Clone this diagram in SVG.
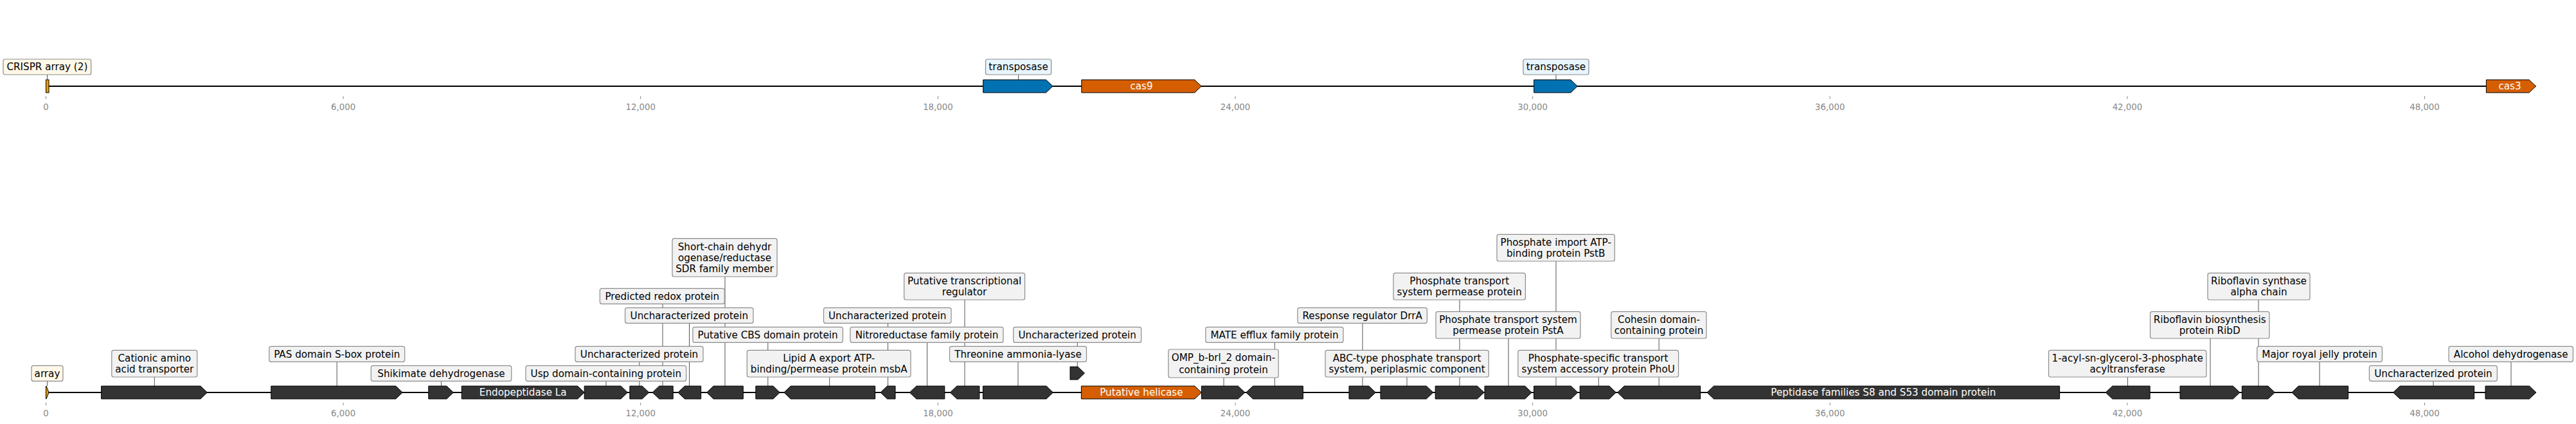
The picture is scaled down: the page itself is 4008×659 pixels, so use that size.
<svg xmlns="http://www.w3.org/2000/svg" width="4008" height="659" viewBox="0 0 4008 659">
<style>
.bg{fill:#ffffff}
.axis{stroke:#000;stroke-width:2;fill:none}
.gene{fill:#333333;stroke:#000;stroke-width:1}
.cas{fill:#D55E00;stroke:#000;stroke-width:1}
.tnp{fill:#0072B2;stroke:#000;stroke-width:1}
.crispr{fill:#E69F00;stroke:#000;stroke-width:1}
.lbl{fill:#F2F2F2;stroke:#8c8c8c;stroke-width:1.2}
.lblc{fill:#FFF8E8;stroke:#8c8c8c;stroke-width:1.2}
.lblt{fill:#E8F5FC;stroke:#8c8c8c;stroke-width:1.2}
.lead{stroke:#555;stroke-width:1;fill:none}
.tick{stroke:#888;stroke-width:1}
.t{font-family:"DejaVu Sans",sans-serif;font-size:15.2px;fill:#000;text-anchor:middle}
.w{font-family:"DejaVu Sans",sans-serif;font-size:15.2px;fill:#fff;text-anchor:middle}
.tl{font-family:"DejaVu Sans",sans-serif;font-size:13.3px;fill:#888;text-anchor:middle}
</style>
<rect class="bg" x="0" y="0" width="4008" height="659"/>

<g id="axes">
<line class="axis" x1="71.5" y1="134" x2="3945.6" y2="134"/>
<line class="axis" x1="71.5" y1="610" x2="3945.9" y2="610"/>
<g id="ticks-top">
<line class="tick" x1="71.5" y1="149.3" x2="71.5" y2="154"/><text class="tl" x="71.5" y="171.4">0</text>
<line class="tick" x1="534.1" y1="149.3" x2="534.1" y2="154"/><text class="tl" x="534.1" y="171.4">6,000</text>
<line class="tick" x1="996.7" y1="149.3" x2="996.7" y2="154"/><text class="tl" x="996.7" y="171.4">12,000</text>
<line class="tick" x1="1459.4" y1="149.3" x2="1459.4" y2="154"/><text class="tl" x="1459.4" y="171.4">18,000</text>
<line class="tick" x1="1922" y1="149.3" x2="1922" y2="154"/><text class="tl" x="1922" y="171.4">24,000</text>
<line class="tick" x1="2384.6" y1="149.3" x2="2384.6" y2="154"/><text class="tl" x="2384.6" y="171.4">30,000</text>
<line class="tick" x1="2847.2" y1="149.3" x2="2847.2" y2="154"/><text class="tl" x="2847.2" y="171.4">36,000</text>
<line class="tick" x1="3309.9" y1="149.3" x2="3309.9" y2="154"/><text class="tl" x="3309.9" y="171.4">42,000</text>
<line class="tick" x1="3772.5" y1="149.3" x2="3772.5" y2="154"/><text class="tl" x="3772.5" y="171.4">48,000</text>
</g>
<g id="ticks-bottom">
<line class="tick" x1="71.5" y1="625.7" x2="71.5" y2="630"/><text class="tl" x="71.5" y="647">0</text>
<line class="tick" x1="534.1" y1="625.7" x2="534.1" y2="630"/><text class="tl" x="534.1" y="647">6,000</text>
<line class="tick" x1="996.7" y1="625.7" x2="996.7" y2="630"/><text class="tl" x="996.7" y="647">12,000</text>
<line class="tick" x1="1459.4" y1="625.7" x2="1459.4" y2="630"/><text class="tl" x="1459.4" y="647">18,000</text>
<line class="tick" x1="1922" y1="625.7" x2="1922" y2="630"/><text class="tl" x="1922" y="647">24,000</text>
<line class="tick" x1="2384.6" y1="625.7" x2="2384.6" y2="630"/><text class="tl" x="2384.6" y="647">30,000</text>
<line class="tick" x1="2847.2" y1="625.7" x2="2847.2" y2="630"/><text class="tl" x="2847.2" y="647">36,000</text>
<line class="tick" x1="3309.9" y1="625.7" x2="3309.9" y2="630"/><text class="tl" x="3309.9" y="647">42,000</text>
<line class="tick" x1="3772.5" y1="625.7" x2="3772.5" y2="630"/><text class="tl" x="3772.5" y="647">48,000</text>
</g>
</g>

<g id="connectors">
<line class="lead" x1="73.5" y1="116" x2="73.5" y2="124"/>
<line class="lead" x1="1584.6" y1="116" x2="1584.6" y2="124"/>
<line class="lead" x1="2421" y1="116" x2="2421" y2="124"/>
<line class="lead" x1="73.5" y1="592.3" x2="73.5" y2="600"/>
<line class="lead" x1="240.3" y1="586" x2="240.3" y2="600"/>
<line class="lead" x1="524.2" y1="562.3" x2="524.2" y2="600"/>
<line class="lead" x1="686.5" y1="592.3" x2="686.5" y2="600"/>
<line class="lead" x1="943" y1="592.3" x2="943" y2="600"/>
<line class="lead" x1="994.8" y1="562.3" x2="994.8" y2="600"/>
<line class="lead" x1="1031" y1="472.3" x2="1031" y2="600"/>
<line class="lead" x1="1072.5" y1="502.3" x2="1072.5" y2="600"/>
<line class="lead" x1="1128" y1="430" x2="1128" y2="600"/>
<line class="lead" x1="1194.8" y1="532.3" x2="1194.8" y2="600"/>
<line class="lead" x1="1290.7" y1="586" x2="1290.7" y2="600"/>
<line class="lead" x1="1381.5" y1="502.3" x2="1381.5" y2="600"/>
<line class="lead" x1="1442.5" y1="532.3" x2="1442.5" y2="600"/>
<line class="lead" x1="1501" y1="466" x2="1501" y2="600"/>
<line class="lead" x1="1584" y1="562.3" x2="1584" y2="600"/>
<line class="lead" x1="1676.3" y1="532.3" x2="1676.3" y2="570"/>
<line class="lead" x1="1904" y1="587" x2="1904" y2="600"/>
<line class="lead" x1="1983.3" y1="532.3" x2="1983.3" y2="600"/>
<line class="lead" x1="2120" y1="502.3" x2="2120" y2="600"/>
<line class="lead" x1="2189" y1="586" x2="2189" y2="600"/>
<line class="lead" x1="2271" y1="466" x2="2271" y2="600"/>
<line class="lead" x1="2347" y1="526" x2="2347" y2="600"/>
<line class="lead" x1="2421" y1="406" x2="2421" y2="600"/>
<line class="lead" x1="2487.3" y1="586" x2="2487.3" y2="600"/>
<line class="lead" x1="2581.2" y1="526" x2="2581.2" y2="600"/>
<line class="lead" x1="3310.5" y1="586" x2="3310.5" y2="600"/>
<line class="lead" x1="3439" y1="526" x2="3439" y2="600"/>
<line class="lead" x1="3514" y1="466" x2="3514" y2="600"/>
<line class="lead" x1="3609" y1="562.3" x2="3609" y2="600"/>
<line class="lead" x1="3786" y1="592.3" x2="3786" y2="600"/>
<line class="lead" x1="3907" y1="562.3" x2="3907" y2="600"/>
</g>

<g id="top-track">
<g id="t-crispr"><rect class="crispr" x="71.5" y="124" width="4.5" height="20"/><rect class="lblc" x="5" y="92" width="136.7" height="24" rx="3"/><text class="t" x="73.4" y="109.4">CRISPR array (2)</text></g>
<g id="t-tnp1"><polygon class="tnp" points="1529.7,124 1627.5,124 1638,134 1627.5,144 1529.7,144"/><rect class="lblt" x="1533.5" y="92" width="102.1" height="24" rx="3"/><text class="t" x="1584.6" y="109.4">transposase</text></g>
<g id="t-cas9"><polygon class="cas" points="1682.8,124 1858.7,124 1869.2,134 1858.7,144 1682.8,144"/><text class="w" x="1776" y="139.4">cas9</text></g>
<g id="t-tnp2"><polygon class="tnp" points="2386.7,124 2443.9,124 2454.4,134 2443.9,144 2386.7,144"/><rect class="lblt" x="2370" y="92" width="102" height="24" rx="3"/><text class="t" x="2421" y="109.4">transposase</text></g>
<g id="t-cas3"><polygon class="cas" points="3868.4,124 3935.1,124 3945.6,134 3935.1,144 3868.4,144"/><text class="w" x="3905" y="139.4">cas3</text></g>
</g>

<g id="bottom-track">
<g id="b01"><polygon class="crispr" points="71.5,600 72,600 76,610 72,620 71.5,620"/><rect class="lblc" x="49" y="568.3" width="49" height="24" rx="3"/><text class="t" x="73.5" y="585.7">array</text></g>
<g id="b02"><polygon class="gene" points="157.6,600 312,600 322.5,610 312,620 157.6,620"/><rect class="lbl" x="173.8" y="544.3" width="133" height="41.7" rx="3"/><text class="t" x="240.3" y="562.2">Cationic amino</text><text class="t" x="240.3" y="578.9">acid transporter</text></g>
<g id="b03"><polygon class="gene" points="421.8,600 615.8,600 626.3,610 615.8,620 421.8,620"/><rect class="lbl" x="418.8" y="538.3" width="210.9" height="24" rx="3"/><text class="t" x="524.2" y="555.7">PAS domain S-box protein</text></g>
<g id="b04"><polygon class="gene" points="666.8,600 695,600 705.5,610 695,620 666.8,620"/><rect class="lbl" x="577.3" y="568.3" width="218.5" height="24" rx="3"/><text class="t" x="686.5" y="585.7">Shikimate dehydrogenase</text></g>
<g id="b05"><polygon class="gene" points="718.3,600 898.7,600 909.2,610 898.7,620 718.3,620"/><text class="w" x="813.7" y="615.4">Endopeptidase La</text></g>
<g id="b06"><polygon class="gene" points="909.2,600 966,600 976.5,610 966,620 909.2,620"/><rect class="lbl" x="818" y="568.3" width="249.7" height="24" rx="3"/><text class="t" x="942.8" y="585.7">Usp domain-containing protein</text></g>
<g id="b07"><polygon class="gene" points="979.9,600 999.2,600 1009.7,610 999.2,620 979.9,620"/><rect class="lbl" x="895" y="538.3" width="199" height="24" rx="3"/><text class="t" x="994.5" y="555.7">Uncharacterized protein</text></g>
<g id="b08"><polygon class="gene" points="1015.2,610 1025.7,600 1047.2,600 1047.2,620 1025.7,620"/><rect class="lbl" x="933.4" y="448.3" width="193.9" height="24" rx="3"/><text class="t" x="1030.3" y="465.7">Predicted redox protein</text></g>
<g id="b09"><polygon class="gene" points="1054.9,610 1065.4,600 1090.7,600 1090.7,620 1065.4,620"/><rect class="lbl" x="972.6" y="478.3" width="199.4" height="24" rx="3"/><text class="t" x="1072.3" y="495.7">Uncharacterized protein</text></g>
<g id="b10"><polygon class="gene" points="1099.6,610 1110.1,600 1156.3,600 1156.3,620 1110.1,620"/><rect class="lbl" x="1046" y="370.7" width="163" height="59.3" rx="3"/><text class="t" x="1127.5" y="388.8">Short-chain dehydr</text><text class="t" x="1127.5" y="405.8">ogenase/reductase</text><text class="t" x="1127.5" y="422.8">SDR family member</text></g>
<g id="b11"><polygon class="gene" points="1175.9,600 1202.9,600 1213.4,610 1202.9,620 1175.9,620"/><rect class="lbl" x="1077.9" y="508.3" width="233.5" height="24" rx="3"/><text class="t" x="1194.6" y="525.7">Putative CBS domain protein</text></g>
<g id="b12"><polygon class="gene" points="1219.8,610 1230.3,600 1361.6,600 1361.6,620 1230.3,620"/><rect class="lbl" x="1162.3" y="544.3" width="254.7" height="41.7" rx="3"/><text class="t" x="1289.7" y="562.2">Lipid A export ATP-</text><text class="t" x="1289.7" y="578.9">binding/permease protein msbA</text></g>
<g id="b13"><polygon class="gene" points="1370,610 1380.5,600 1393,600 1393,620 1380.5,620"/><rect class="lbl" x="1281.5" y="478.3" width="198.5" height="24" rx="3"/><text class="t" x="1380.7" y="495.7">Uncharacterized protein</text></g>
<g id="b14"><polygon class="gene" points="1415.3,610 1425.8,600 1469.8,600 1469.8,620 1425.8,620"/><rect class="lbl" x="1322.9" y="508.3" width="238.1" height="24" rx="3"/><text class="t" x="1442" y="525.7">Nitroreductase family protein</text></g>
<g id="b15"><polygon class="gene" points="1478.3,610 1488.8,600 1523.9,600 1523.9,620 1488.8,620"/><rect class="lbl" x="1406.7" y="424.3" width="187.9" height="41.7" rx="3"/><text class="t" x="1500.6" y="442.2">Putative transcriptional</text><text class="t" x="1500.6" y="458.9">regulator</text></g>
<g id="b16"><polygon class="gene" points="1529.4,600 1628,600 1638.5,610 1628,620 1529.4,620"/><rect class="lbl" x="1477.5" y="538.3" width="213" height="24" rx="3"/><text class="t" x="1584" y="555.7">Threonine ammonia-lyase</text></g>
<g id="b17"><polygon class="gene" points="1665,570 1677,570 1687.5,580 1677,590 1665,590"/><rect class="lbl" x="1576.7" y="508.3" width="199" height="24" rx="3"/><text class="t" x="1676.2" y="525.7">Uncharacterized protein</text></g>
<g id="b18"><polygon class="cas" points="1682.4,600 1858.9,600 1869.4,610 1858.9,620 1682.4,620"/><text class="w" x="1775.9" y="615.4">Putative helicase</text></g>
<g id="b19"><polygon class="gene" points="1869.4,600 1926.3,600 1936.8,610 1926.3,620 1869.4,620"/><rect class="lbl" x="1817.9" y="543" width="171.3" height="44" rx="3"/><text class="t" x="1903.5" y="561">OMP_b-brl_2 domain-</text><text class="t" x="1903.5" y="579.5">containing protein</text></g>
<g id="b20"><polygon class="gene" points="1938.9,610 1949.4,600 2027.4,600 2027.4,620 1949.4,620"/><rect class="lbl" x="1875.8" y="508.3" width="214.2" height="24" rx="3"/><text class="t" x="1983" y="525.7">MATE efflux family protein</text></g>
<g id="b21"><polygon class="gene" points="2099,600 2129.8,600 2140.3,610 2129.8,620 2099,620"/><rect class="lbl" x="2018.9" y="478.3" width="201.5" height="24" rx="3"/><text class="t" x="2119.7" y="495.7">Response regulator DrrA</text></g>
<g id="b22"><polygon class="gene" points="2148,600 2219.3,600 2229.8,610 2219.3,620 2148,620"/><rect class="lbl" x="2062" y="544.3" width="254.3" height="41.7" rx="3"/><text class="t" x="2189" y="562.2">ABC-type phosphate transport</text><text class="t" x="2189" y="578.9">system, periplasmic component</text></g>
<g id="b23"><polygon class="gene" points="2233.2,600 2298.5,600 2309,610 2298.5,620 2233.2,620"/><rect class="lbl" x="2168" y="424.3" width="205.4" height="41.7" rx="3"/><text class="t" x="2270.7" y="442.2">Phosphate transport</text><text class="t" x="2270.7" y="458.9">system permease protein</text></g>
<g id="b24"><polygon class="gene" points="2310,600 2372.7,600 2383.2,610 2372.7,620 2310,620"/><rect class="lbl" x="2234" y="484.3" width="225" height="41.7" rx="3"/><text class="t" x="2346.5" y="502.2">Phosphate transport system</text><text class="t" x="2346.5" y="518.9">permease protein PstA</text></g>
<g id="b25"><polygon class="gene" points="2386.6,600 2444.3,600 2454.8,610 2444.3,620 2386.6,620"/><rect class="lbl" x="2329" y="364.3" width="183.3" height="41.7" rx="3"/><text class="t" x="2420.7" y="382.2">Phosphate import ATP-</text><text class="t" x="2420.7" y="398.9">binding protein PstB</text></g>
<g id="b26"><polygon class="gene" points="2458.2,600 2503.9,600 2514.4,610 2503.9,620 2458.2,620"/><rect class="lbl" x="2361.9" y="544.3" width="249.7" height="41.7" rx="3"/><text class="t" x="2486.7" y="562.2">Phosphate-specific transport</text><text class="t" x="2486.7" y="578.9">system accessory protein PhoU</text></g>
<g id="b27"><polygon class="gene" points="2516.6,610 2527.1,600 2645.7,600 2645.7,620 2527.1,620"/><rect class="lbl" x="2506.8" y="484.3" width="148.2" height="41.7" rx="3"/><text class="t" x="2581" y="502.2">Cohesin domain-</text><text class="t" x="2581" y="518.9">containing protein</text></g>
<g id="b28"><polygon class="gene" points="2656,610 2666.5,600 3204.6,600 3204.6,620 2666.5,620"/><text class="w" x="2930.3" y="615.4">Peptidase families S8 and S53 domain protein</text></g>
<g id="b29"><polygon class="gene" points="3276.2,610 3286.7,600 3345.1,600 3345.1,620 3286.7,620"/><rect class="lbl" x="3187.5" y="544.3" width="245.4" height="41.7" rx="3"/><text class="t" x="3310.2" y="562.2">1-acyl-sn-glycerol-3-phosphate</text><text class="t" x="3310.2" y="578.9">acyltransferase</text></g>
<g id="b30"><polygon class="gene" points="3392,600 3474.4,600 3484.9,610 3474.4,620 3392,620"/><rect class="lbl" x="3345.5" y="484.3" width="185.4" height="41.7" rx="3"/><text class="t" x="3438.2" y="502.2">Riboflavin biosynthesis</text><text class="t" x="3438.2" y="518.9">protein RibD</text></g>
<g id="b31"><polygon class="gene" points="3488.3,600 3528.9,600 3539.4,610 3528.9,620 3488.3,620"/><rect class="lbl" x="3435" y="424.3" width="159" height="41.7" rx="3"/><text class="t" x="3514.5" y="442.2">Riboflavin synthase</text><text class="t" x="3514.5" y="458.9">alpha chain</text></g>
<g id="b32"><polygon class="gene" points="3565.8,610 3576.3,600 3653.6,600 3653.6,620 3576.3,620"/><rect class="lbl" x="3511.7" y="538.3" width="194.7" height="24" rx="3"/><text class="t" x="3609" y="555.7">Major royal jelly protein</text></g>
<g id="b33"><polygon class="gene" points="3723.5,610 3734,600 3849.6,600 3849.6,620 3734,620"/><rect class="lbl" x="3686.4" y="568.3" width="199" height="24" rx="3"/><text class="t" x="3785.9" y="585.7">Uncharacterized protein</text></g>
<g id="b34"><polygon class="gene" points="3867,600 3935.4,600 3945.9,610 3935.4,620 3867,620"/><rect class="lbl" x="3810" y="538.3" width="193.4" height="24" rx="3"/><text class="t" x="3906.7" y="555.7">Alcohol dehydrogenase</text></g>
</g>
</svg>
